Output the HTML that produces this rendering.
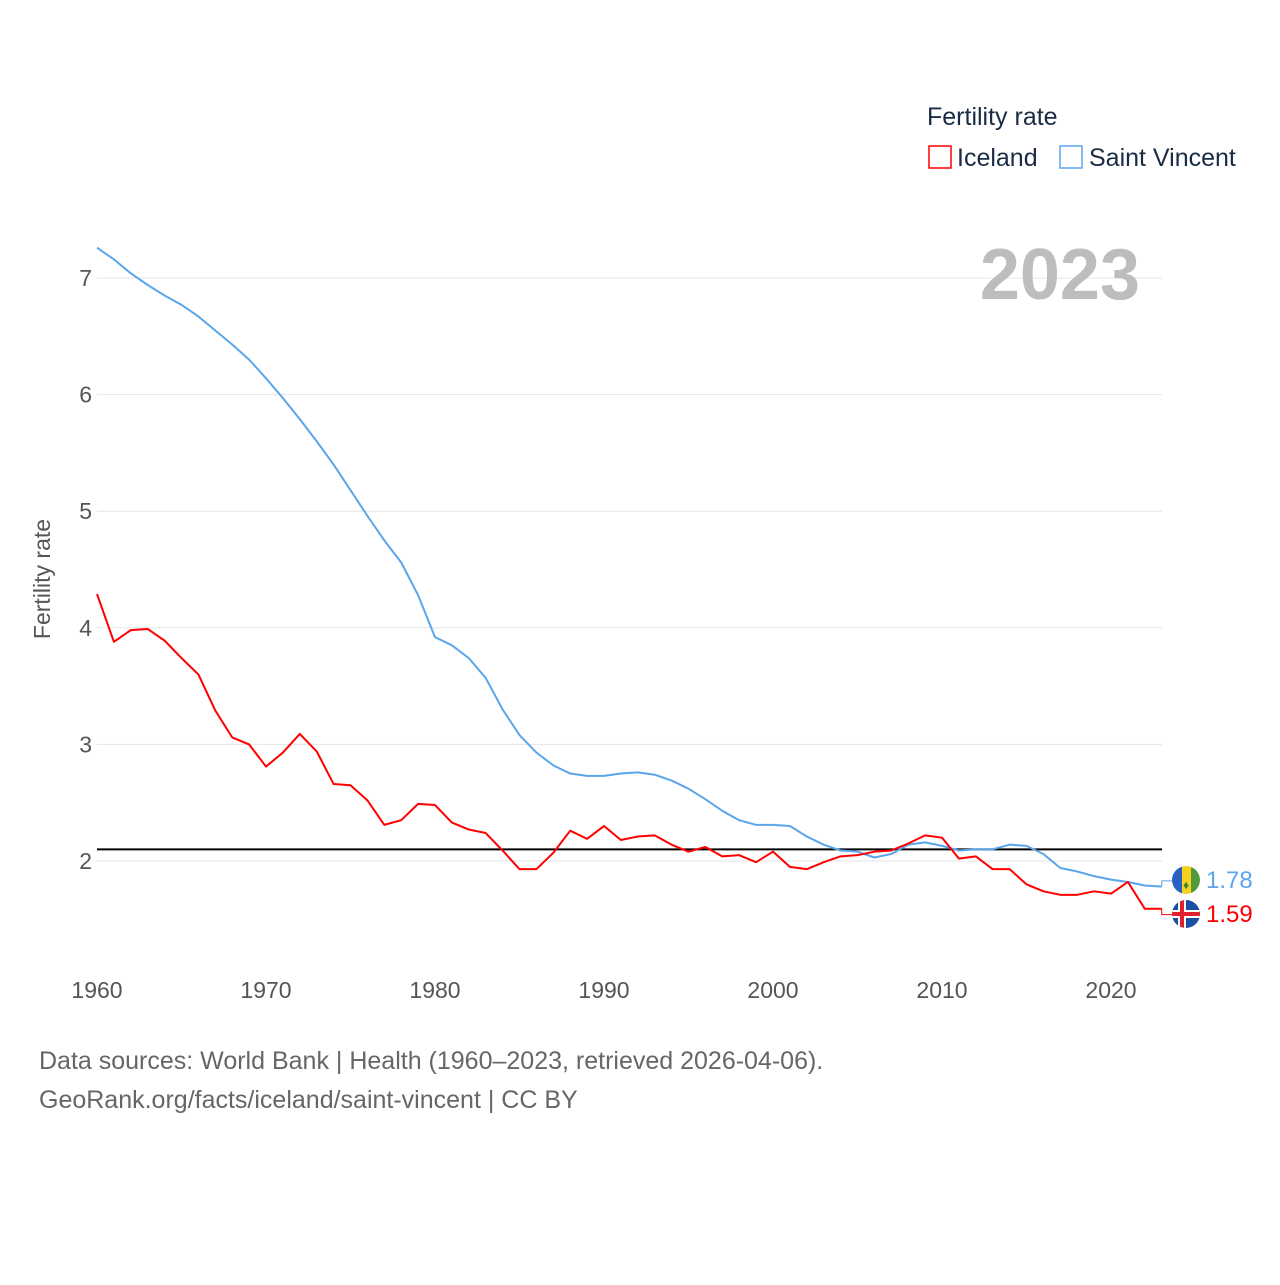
<!DOCTYPE html>
<html><head><meta charset="utf-8"><style>
body{margin:0;background:#fff;font-family:"Liberation Sans",sans-serif}
svg text{font-family:"Liberation Sans",sans-serif}
</style></head><body>
<svg id="c" width="1280" height="1280" xmlns="http://www.w3.org/2000/svg">
<defs>
<clipPath id="f1"><circle cx="1186" cy="880" r="14"/></clipPath>
<clipPath id="f2"><circle cx="1186" cy="914" r="14"/></clipPath>
</defs>
<g id="grid"></g>
<g id="xt"></g>
<text x="50" y="579" transform="rotate(-90 50 579)" text-anchor="middle" font-size="23" fill="#555">Fertility rate</text>
<text x="1140" y="299" text-anchor="end" font-size="72" font-weight="bold" fill="#bdbdbd">2023</text>
<text x="927" y="125" font-size="25" fill="#1a2b45">Fertility rate</text>
<g><rect x="929" y="146" width="22" height="22" fill="none" stroke="#f00" stroke-width="1.5"/><text x="957" y="166" font-size="25" fill="#1a2b45">Iceland</text></g>
<g><rect x="1060" y="146" width="22" height="22" fill="none" stroke="#5aa5ec" stroke-width="1.5"/><text x="1089" y="166" font-size="25" fill="#1a2b45">Saint Vincent</text></g>
<g id="series"></g>
<g clip-path="url(#f1)"><rect x="1172" y="866" width="10" height="28" fill="#2a60c4"/><rect x="1182" y="866" width="9" height="28" fill="#f7d11c"/><rect x="1191" y="866" width="10" height="28" fill="#4f9b3c"/><text x="1186" y="889" text-anchor="middle" font-size="12" fill="#3a8a2a">♦</text></g>
<g clip-path="url(#f2)"><rect x="1172" y="900" width="28" height="28" fill="#1a4fa3"/><rect x="1172" y="910" width="28" height="8" fill="#fff"/><rect x="1178" y="900" width="8" height="28" fill="#fff"/><rect x="1172" y="912" width="28" height="4" fill="#e0202a"/><rect x="1180" y="900" width="4" height="28" fill="#e0202a"/></g>
<text x="1206" y="888" font-size="24" fill="#5aa5ec">1.78</text>
<text x="1206" y="922" font-size="24" fill="#f00">1.59</text>
<text x="39" y="1069" font-size="25" fill="#666">Data sources: World Bank | Health (1960–2023, retrieved 2026-04-06).</text>
<text x="39" y="1108" font-size="25" fill="#666">GeoRank.org/facts/iceland/saint-vincent | CC BY</text>
</svg>
<script>
const years=[];for(let y=1960;y<=2023;y++)years.push(y);
const yTicks=[2,3,4,5,6,7];
const xTicks=[1960,1970,1980,1990,2000,2010,2020];
const refValue=2.1;
const saintVincent=[7.26,7.16,7.04,6.94,6.85,6.77,6.67,6.55,6.43,6.30,6.14,5.97,5.79,5.60,5.40,5.18,4.96,4.75,4.56,4.28,3.92,3.85,3.74,3.57,3.30,3.08,2.93,2.82,2.75,2.73,2.73,2.75,2.76,2.74,2.69,2.62,2.53,2.43,2.35,2.31,2.31,2.30,2.21,2.14,2.09,2.08,2.03,2.06,2.14,2.16,2.13,2.09,2.10,2.10,2.14,2.13,2.06,1.94,1.91,1.87,1.84,1.82,1.79,1.78];
const iceland=[4.29,3.88,3.98,3.99,3.89,3.74,3.60,3.29,3.06,3.00,2.81,2.93,3.09,2.94,2.66,2.65,2.52,2.31,2.35,2.49,2.48,2.33,2.27,2.24,2.09,1.93,1.93,2.07,2.26,2.19,2.30,2.18,2.21,2.22,2.14,2.08,2.12,2.04,2.05,1.99,2.08,1.95,1.93,1.99,2.04,2.05,2.08,2.09,2.15,2.22,2.20,2.02,2.04,1.93,1.93,1.80,1.74,1.71,1.71,1.74,1.72,1.82,1.59,1.59];
const NS='http://www.w3.org/2000/svg';
const X=y=>97+(y-1960)*(1111-97)/60;
const Y=v=>861-(v-2)*116.6;
function mk(t,a,p){const e=document.createElementNS(NS,t);for(const k in a)e.setAttribute(k,a[k]);p.appendChild(e);return e;}
const grid=document.getElementById('grid');
yTicks.forEach(v=>{
const l=mk('line',{x1:97,x2:1162,y1:Y(v),y2:Y(v),stroke:'#e6e6e6','stroke-width':1},grid);


const t=mk('text',{x:92,y:Y(v)+8,'text-anchor':'end','font-size':23,fill:'#555'},grid);t.textContent=v;


});
const xt=document.getElementById('xt');
xTicks.forEach(v=>{
const t=mk('text',{x:X(v),y:998,'text-anchor':'middle','font-size':23,fill:'#555'},xt);t.textContent=v;


});
const s=document.getElementById('series');
const ref=mk('line',{x1:97,x2:1162,y1:Y(refValue),y2:Y(refValue),stroke:'#000','stroke-width':2},s);


function line(data,col,name){
const p=mk('polyline',{points:data.map((v,i)=>X(years[i])+','+Y(v)).join(' '),fill:'none',stroke:col,'stroke-width':2,'stroke-linejoin':'round'},s);


}
line(saintVincent,'#5aa5ec','series-saint-vincent');
line(iceland,'#f00','series-iceland');
const n=years.length-1;
const c1=mk('polyline',{points:`${X(years[n])},${Y(saintVincent[n])} ${X(years[n])},${Y(1.83)} 1172,${Y(1.83)}`,fill:'none',stroke:'#5aa5ec','stroke-width':1},s);


const c2=mk('polyline',{points:`${X(years[n])},${Y(iceland[n])} ${X(years[n])},${Y(1.54)} 1172,${Y(1.54)}`,fill:'none',stroke:'#f00','stroke-width':1},s);


</script>
</body></html>
